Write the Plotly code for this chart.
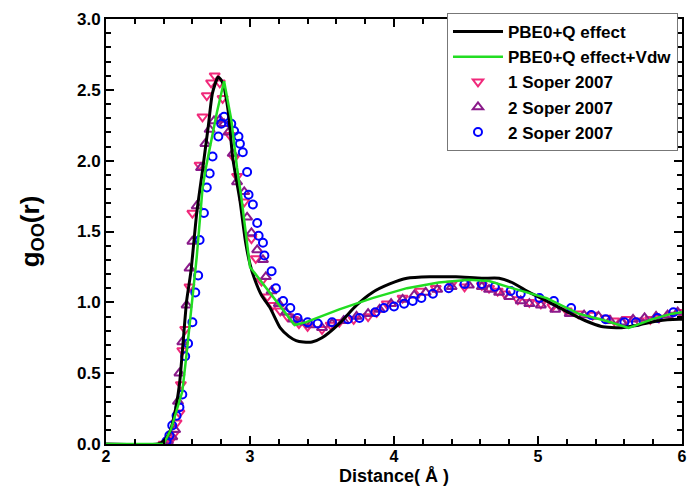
import plotly.graph_objects as go

# ---- data ----
black_x = [2.0, 2.36, 2.40, 2.44, 2.47, 2.51, 2.53, 2.56, 2.59, 2.63, 2.67, 2.71, 2.74, 2.78, 2.81, 2.85,
           2.88, 2.93, 2.97, 3.00, 3.03, 3.08, 3.14, 3.21, 3.27, 3.32, 3.37, 3.43, 3.50, 3.62, 3.74, 3.85,
           3.97, 4.09, 4.25, 4.43, 4.61, 4.73, 4.82, 4.94, 5.06, 5.19, 5.33, 5.44, 5.58, 5.70, 5.84, 5.98, 6.0]
black_y = [0.0, 0.0, 0.02, 0.08, 0.18, 0.42, 0.65, 1.01, 1.22, 1.63, 1.93, 2.24, 2.48, 2.59, 2.55, 2.34,
           2.02, 1.72, 1.42, 1.27, 1.17, 1.05, 0.96, 0.82, 0.76, 0.73, 0.72, 0.72, 0.75, 0.85, 0.98, 1.07,
           1.13, 1.17, 1.18, 1.18, 1.17, 1.17, 1.14, 1.07, 1.01, 0.94, 0.87, 0.83, 0.82, 0.84, 0.87, 0.88, 0.88]

green_x = [2.0, 2.40, 2.45, 2.49, 2.53, 2.56, 2.60, 2.63, 2.67, 2.69, 2.77, 2.82, 2.87, 2.91, 2.94, 3.00,
           3.31, 3.39, 3.62, 3.85, 4.09, 4.31, 4.52, 4.66, 4.82, 5.06, 5.28, 5.47, 5.63, 5.79, 5.93, 6.0]
green_y = [0.0, 0.0, 0.10, 0.23, 0.37, 0.64, 1.01, 1.32, 1.80, 1.93, 2.34, 2.56, 2.29, 1.95, 1.74, 1.25,
           0.84, 0.86, 0.95, 1.03, 1.10, 1.14, 1.16, 1.15, 1.10, 1.03, 0.92, 0.87, 0.82, 0.88, 0.92, 0.93]

pink_x = [2.40, 2.43, 2.45, 2.47, 2.49, 2.51, 2.52, 2.53, 2.55, 2.58, 2.60, 2.65, 2.67, 2.70, 2.73, 2.755,
          2.79, 2.81, 2.86, 2.89, 2.91, 2.96, 3.01, 3.04, 3.08, 3.12, 3.16, 3.21, 3.26, 3.30, 3.34, 3.40,
          3.50, 3.56, 3.62, 3.72, 3.82, 3.88, 3.95, 4.06, 4.18, 4.29, 4.40, 4.49, 4.61, 4.66, 4.72, 4.77,
          4.86, 4.94, 5.02, 5.10, 5.20, 5.28, 5.38, 5.47, 5.53, 5.62, 5.70, 5.78, 5.84, 5.92, 5.99]
pink_y = [0.00, 0.01, 0.03, 0.07, 0.15, 0.22, 0.42, 0.66, 0.81, 1.11, 1.63, 1.97, 2.31, 2.46, 2.55, 2.60,
          2.55, 2.44, 2.18, 2.02, 1.89, 1.71, 1.45, 1.31, 1.15, 1.04, 0.98, 0.94, 0.90, 0.88, 0.85, 0.83,
          0.81, 0.84, 0.86, 0.88, 0.90, 0.93, 0.99, 1.03, 1.08, 1.10, 1.13, 1.11, 1.12, 1.10, 1.08, 1.06,
          1.02, 1.00, 0.99, 0.97, 0.94, 0.92, 0.91, 0.89, 0.87, 0.88, 0.87, 0.88, 0.89, 0.91, 0.93]

purple_x = [2.40, 2.43, 2.46, 2.48, 2.50, 2.51, 2.53, 2.56, 2.58, 2.60, 2.63, 2.66, 2.69, 2.72, 2.75, 2.79,
            2.82, 2.85, 2.88, 2.91, 2.96, 2.98, 3.01, 3.05, 3.09, 3.11, 3.15, 3.20, 3.25, 3.30, 3.35, 3.42,
            3.50, 3.57, 3.65, 3.74, 3.82, 3.90, 3.98, 4.06, 4.14, 4.22, 4.30, 4.40, 4.52, 4.61, 4.66, 4.73,
            4.80, 4.88, 4.94, 5.02, 5.12, 5.22, 5.32, 5.42, 5.50, 5.58, 5.66, 5.74, 5.82, 5.90, 5.97]
purple_y = [0.00, 0.02, 0.05, 0.10, 0.30, 0.50, 0.72, 0.98, 1.24, 1.43, 1.68, 1.95, 2.12, 2.22, 2.28, 2.29,
            2.26, 2.20, 2.05, 1.85, 1.78, 1.60, 1.49, 1.37, 1.30, 1.18, 1.08, 0.99, 0.93, 0.88, 0.86, 0.84,
            0.82, 0.85, 0.87, 0.90, 0.92, 0.95, 0.99, 1.02, 1.05, 1.07, 1.09, 1.11, 1.12, 1.11, 1.09, 1.07,
            1.04, 1.01, 0.99, 0.98, 0.95, 0.92, 0.91, 0.90, 0.87, 0.86, 0.88, 0.89, 0.90, 0.91, 0.93]

blue_x = [2.42, 2.44, 2.46, 2.49, 2.51, 2.53, 2.55, 2.57, 2.60, 2.62, 2.64, 2.65, 2.68, 2.70, 2.72, 2.74,
          2.78, 2.80, 2.82, 2.87, 2.89, 2.92, 2.93, 2.95, 2.98, 2.99, 3.02, 3.05, 3.06, 3.09, 3.10, 3.15,
          3.18, 3.23, 3.28, 3.33, 3.40, 3.47, 3.57, 3.68, 3.76, 3.87, 3.93, 4.00, 4.07, 4.13, 4.19, 4.27,
          4.38, 4.49, 4.61, 4.70, 4.81, 4.88, 5.01, 5.11, 5.23, 5.37, 5.47, 5.60, 5.68, 5.83, 5.94]
blue_y = [0.02, 0.06, 0.13, 0.20, 0.26, 0.35, 0.62, 0.71, 0.86, 1.07, 1.19, 1.44, 1.63, 1.81, 1.91, 2.03,
          2.17, 2.26, 2.31, 2.26, 2.21, 2.17, 2.12, 2.06, 1.92, 1.76, 1.69, 1.56, 1.47, 1.42, 1.33, 1.22,
          1.10, 1.01, 0.96, 0.89, 0.86, 0.85, 0.86, 0.88, 0.89, 0.93, 0.96, 0.97, 0.99, 1.01, 1.03, 1.06,
          1.10, 1.13, 1.13, 1.11, 1.08, 1.06, 1.03, 1.01, 0.96, 0.91, 0.88, 0.86, 0.86, 0.89, 0.93]

names = ["PBE0+Q effect", "PBE0+Q effect+Vdw", "1 Soper 2007", "2 Soper 2007", "2 Soper 2007"]
x_title = "Distance( Å )"
y_title = "g<sub>OO</sub>(r)"

FONT = "Liberation Sans, Arial, sans-serif"
PINK = "#f0287a"
PURPLE = "#8a1a8a"
BLUE = "#0000ff"
GREEN = "#22dd22"

fig = go.Figure()
fig.add_trace(go.Scatter(x=pink_x, y=pink_y, mode="markers", name=names[2], legendrank=3,
                         marker=dict(symbol="triangle-down-open", size=9, color=PINK, line=dict(width=2))))
fig.add_trace(go.Scatter(x=purple_x, y=purple_y, mode="markers", name=names[3], legendrank=4,
                         marker=dict(symbol="triangle-up-open", size=9, color=PURPLE, line=dict(width=2))))
fig.add_trace(go.Scatter(x=blue_x, y=blue_y, mode="markers", name=names[4], legendrank=5,
                         marker=dict(symbol="circle-open", size=8, color=BLUE, line=dict(width=2))))
fig.add_trace(go.Scatter(x=black_x, y=black_y, mode="lines", name=names[0], legendrank=1,
                         line=dict(color="black", width=3, shape="spline", smoothing=0.6)))
fig.add_trace(go.Scatter(x=green_x, y=green_y, mode="lines", name=names[1], legendrank=2,
                         line=dict(color=GREEN, width=2.5)))

axis_common = dict(
    showline=True, linewidth=2, linecolor="black", mirror="allticks",
    ticks="inside", ticklen=8, tickwidth=1.5, tickcolor="black",
    showgrid=False, zeroline=False,
)

fig.update_layout(
    width=689, height=487,
    margin=dict(l=106, r=5, t=19, b=43),
    plot_bgcolor="white", paper_bgcolor="white",
    font=dict(family=FONT, color="black"),
    xaxis=dict(range=[2, 6], dtick=1, tick0=2, automargin=False, ticklabelstandoff=-3,
               tickfont=dict(family=FONT, size=16, color="black", weight="bold"),
               minor=dict(dtick=0.2, ticks="inside", ticklen=5, tickwidth=1.5, tickcolor="black"),
               **axis_common),
    yaxis=dict(range=[0, 3], dtick=0.5, tick0=0, tickformat=".1f",
               tickfont=dict(family=FONT, size=17, color="black", weight="bold"),
               minor=dict(dtick=0.1, ticks="inside", ticklen=5, tickwidth=1.5, tickcolor="black"),
               title=dict(text=y_title, font=dict(family=FONT, size=26, weight="bold"), standoff=30),
               **axis_common),
    legend=dict(x=0.592, y=1.014, xanchor="left", yanchor="top",
                bgcolor="white", bordercolor="#777777", borderwidth=1,
                font=dict(family=FONT, size=17, color="black", weight="bold"),
                tracegroupgap=0, itemwidth=50),
    showlegend=True,
)

fig.add_annotation(text=x_title, xref="paper", yref="paper", x=0.5, y=-43 / 425,
                   xanchor="center", yanchor="bottom", showarrow=False, borderpad=0,
                   font=dict(family=FONT, size=18, color="black", weight="bold"))

fig.write_html("out.html")
